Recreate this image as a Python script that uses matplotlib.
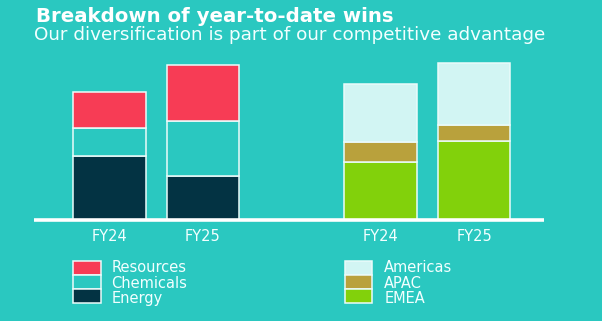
import matplotlib
matplotlib.use("Agg")
import matplotlib.pyplot as plt
from matplotlib.patches import Rectangle

# ---- data -------------------------------------------------------------
years = ["FY24", "FY25"]

# wins by sector (stacked bottom -> top)
energy = [64.0, 43.5]
chemicals = [27.5, 55.5]
resources = [36.0, 55.5]

# wins by region (stacked bottom -> top)
emea = [58.0, 78.5]
apac = [19.5, 16.0]
americas = [58.0, 62.5]

sector_names = ["Resources", "Chemicals", "Energy"]
region_names = ["Americas", "APAC", "EMEA"]

# ---- style ------------------------------------------------------------
BG = "#2AC8C0"
TXT = "#F2FFFF"
EDGE = "#EAFBFA"
C_RES, C_CHEM, C_EN = "#F73C55", "#2AC8C0", "#033343"
C_AM, C_AP, C_EM = "#D2F5F3", "#B9A13C", "#82D10B"

W, H = 602, 321
fig = plt.figure(figsize=(W / 100, H / 100), dpi=100, facecolor=BG)
plt.rcParams["font.family"] = ["DejaVu Sans"]


def fx(px):
    return px / W


def fy(py):
    return 1 - py / H


# main axes: baseline at the white rule
base_px = 219.5
ax = fig.add_axes([fx(34), fy(base_px), fx(544) - fx(34), 160 / H])
ax.set_facecolor(BG)
ax.set_xlim(-0.807, 4.647)
ax.set_ylim(0, 160)

left_x = [0.0, 1.0]
right_x = [2.9, 3.9]
bw = 0.775
kw = dict(width=bw, edgecolor=EDGE, linewidth=1.1)


def stack(xs, layers):
    bottom = [0.0] * len(xs)
    for vals, col in layers:
        ax.bar(xs, vals, bottom=bottom, color=col, **kw)
        bottom = [b + v for b, v in zip(bottom, vals)]


stack(left_x, [(energy, C_EN), (chemicals, C_CHEM), (resources, C_RES)])
stack(right_x, [(emea, C_EM), (apac, C_AP), (americas, C_AM)])

for s in ["top", "right", "left"]:
    ax.spines[s].set_visible(False)
ax.spines["bottom"].set_color("white")
ax.spines["bottom"].set_linewidth(2.6)
ax.spines["bottom"].set_capstyle("butt")
ax.set_yticks([])
ax.set_xticks(left_x + right_x)
ax.set_xticklabels(years + years, color=TXT, fontsize=10.5)
ax.tick_params(axis="x", length=0, pad=7)

# ---- titles -------------------------------------------------------------
fig.text(fx(35.5), fy(21.7), "Breakdown of year-to-date wins", color="white",
         fontsize=14.2, fontweight="bold", va="baseline", ha="left")
fig.text(fx(34.5), fy(40.3), "Our diversification is part of our competitive advantage",
         color=TXT, fontsize=13.2, va="baseline", ha="left")

# ---- legends ------------------------------------------------------------
def legend_block(x_patch, x_text, names, colors):
    top = 260.7
    box_h = 14.0
    for i, (name, col) in enumerate(zip(names, colors)):
        y0 = top + i * box_h
        fig.add_artist(Rectangle((fx(x_patch), fy(y0 + box_h)), fx(27.5), box_h / H,
                                 transform=fig.transFigure, facecolor=col,
                                 edgecolor=EDGE, linewidth=1.1))
        fig.text(fx(x_text), fy(267.5 + i * 15.5), name, color=TXT, fontsize=10.5,
                 va="center", ha="left")


legend_block(73.3, 111.5, sector_names, [C_RES, C_CHEM, C_EN])
legend_block(344.5, 384.3, region_names, [C_AM, C_AP, C_EM])

fig.savefig("out.png", dpi=100, facecolor=BG)
